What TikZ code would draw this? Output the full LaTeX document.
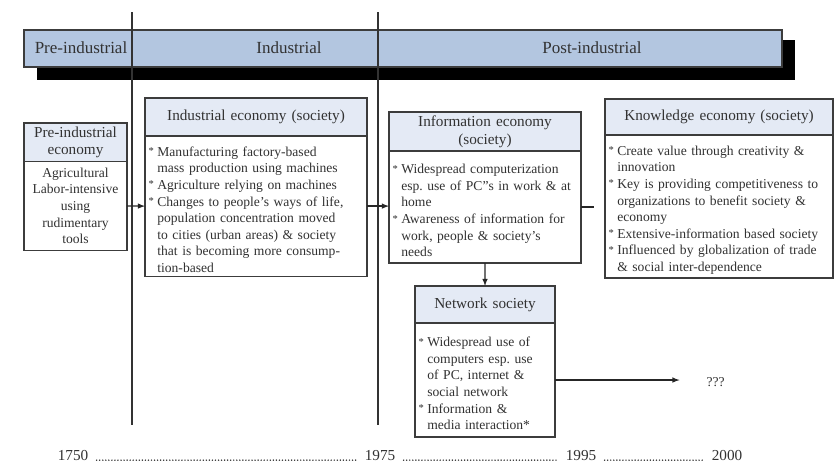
\documentclass[tikz,border=0pt]{standalone}
\usepackage{fontspec}
\setmainfont{Liberation Serif}
\usetikzlibrary{arrows,positioning,calc}
\definecolor{barblue}{RGB}{179,198,224}
\definecolor{hdrblue}{RGB}{228,234,245}
\definecolor{boxline}{RGB}{60,60,60}
\definecolor{txt}{RGB}{50,50,50}
% bullet with hanging text
\newcommand{\bul}{\par\noindent\llap{\makebox[.65em][l]{\raisebox{.25ex}{\small*}}}}
\tikzset{
  hdr/.style={draw=boxline, fill=hdrblue, line width=1.1pt, outer sep=0pt, inner sep=3pt,
    align=center, anchor=north west, text=txt, font=\fontsize{13}{15}\selectfont},
  body/.style={draw=boxline, fill=white, line width=1.1pt, outer sep=0pt, inner sep=3pt,
    align=left, text=txt, font=\fontsize{11.6}{14.2}\selectfont},
  bartext/.style={text=txt, font=\fontsize{14.5}{16}\selectfont},
  year/.style={text=txt, inner xsep=7pt, font=\fontsize{13}{15}\selectfont},
  link/.style={-latex, line width=1.1pt, draw=black!85},
  era/.style={line width=1.3pt, draw=black!80},
  dots/.style={line width=1.4pt, line cap=round, dash pattern=on 0pt off 2.6pt, draw=txt}
}
\begin{document}
\begin{tikzpicture}[x=0.03cm, y=-0.03cm]
\useasboundingbox (0,0) rectangle (836,466);

% era bar
\fill[black] (37,40) rectangle (795,80);
\draw[boxline, fill=barblue, line width=1pt] (24,30) rectangle (782,67);
\node[bartext] (preera) at (81,48) {Pre-industrial};
\node[bartext] (indera) at (289,48) {Industrial};
\node[bartext] (postera) at (592,48) {Post-industrial};
\draw[era] (132,12) -- (132,425);
\draw[era] (378,12) -- (378,425);

% boxes
\node[hdr, text width=81.9pt, minimum height=32.4pt] (preh) at (24,123) {Pre-industrial\\economy};
\node[body, align=center, text width=81.9pt, minimum height=76pt, below=0pt of preh] (preb)
  {Agricultural\\Labor-intensive\\using\\rudimentary\\tools};

\node[hdr, text width=183.5pt, minimum height=32.4pt] (indh) at (145,98) {Industrial economy (society)};
\node[body, text width=183.5pt, minimum height=118.7pt, below=0pt of indh] (indb)
  {\leftskip=.65em
   \bul Manufacturing factory-based\\mass production using machines
   \bul Agriculture relying on machines
   \bul Changes to people’s ways of life,\\population concentration moved\\to cities (urban areas) \& society\\that is becoming more consump-\\tion-based\par};

\node[hdr, text width=157.9pt, minimum height=33.3pt] (infoh) at (389,112) {Information economy\\(society)};
\node[body, text width=157.9pt, minimum height=95.6pt, below=0pt of infoh] (infob)
  {\leftskip=.65em
   \bul Widespread computerization\\esp.\ use of PC''s in work \& at\\home
   \bul Awareness of information for\\work, people \& society’s\\needs\par};

\node[hdr, text width=188.6pt, minimum height=30.7pt] (knowh) at (605,99) {Knowledge economy (society)};
\node[body, text width=188.6pt, minimum height=118.7pt, below=0pt of knowh] (knowb)
  {\leftskip=.65em
   \bul Create value through creativity \&\\innovation
   \bul Key is providing competitiveness to\\organizations to benefit society \&\\economy
   \bul Extensive-information based society
   \bul Influenced by globalization of trade\\\& social inter-dependence\par};

\node[hdr, text width=113.5pt, minimum height=31.6pt] (neth) at (415,286) {Network society};
\node[body, text width=113.5pt, minimum height=97.3pt, below=0pt of neth] (netb)
  {\leftskip=.65em
   \bul Widespread use of\\computers esp.\ use\\of PC, internet \&\\social network
   \bul Information \&\\media interaction*\par};

\node[body, draw=none, fill=none, anchor=west] (qq) at (703,382) {???};
\coordinate (kstub) at (594,205);

% connectors
\draw[link] (preb.east) -- (indb.west);
\draw[link] (indb.east) -- (indb.east -| infob.west);
\draw[line width=1.1pt, draw=black!85] (infob.east) -- (infob.east -| kstub);
\draw[link] (infob.south) -- (neth.north);
\draw[link, shorten >=20pt] (netb.east) -- (netb.east -| qq.west);

% time line
\node[year] (y1750) at (73,456) {1750};
\node[year] (y1975) at (380,456) {1975};
\node[year] (y1995) at (581,456) {1995};
\node[year] (y2000) at (727,456) {2000};
\draw[dots] ([yshift=.7pt]y1750.base east) -- ([yshift=.7pt]y1975.base west);
\draw[dots] ([yshift=.7pt]y1975.base east) -- ([yshift=.7pt]y1995.base west);
\draw[dots] ([yshift=.7pt]y1995.base east) -- ([yshift=.7pt]y2000.base west);
\end{tikzpicture}
\end{document}
